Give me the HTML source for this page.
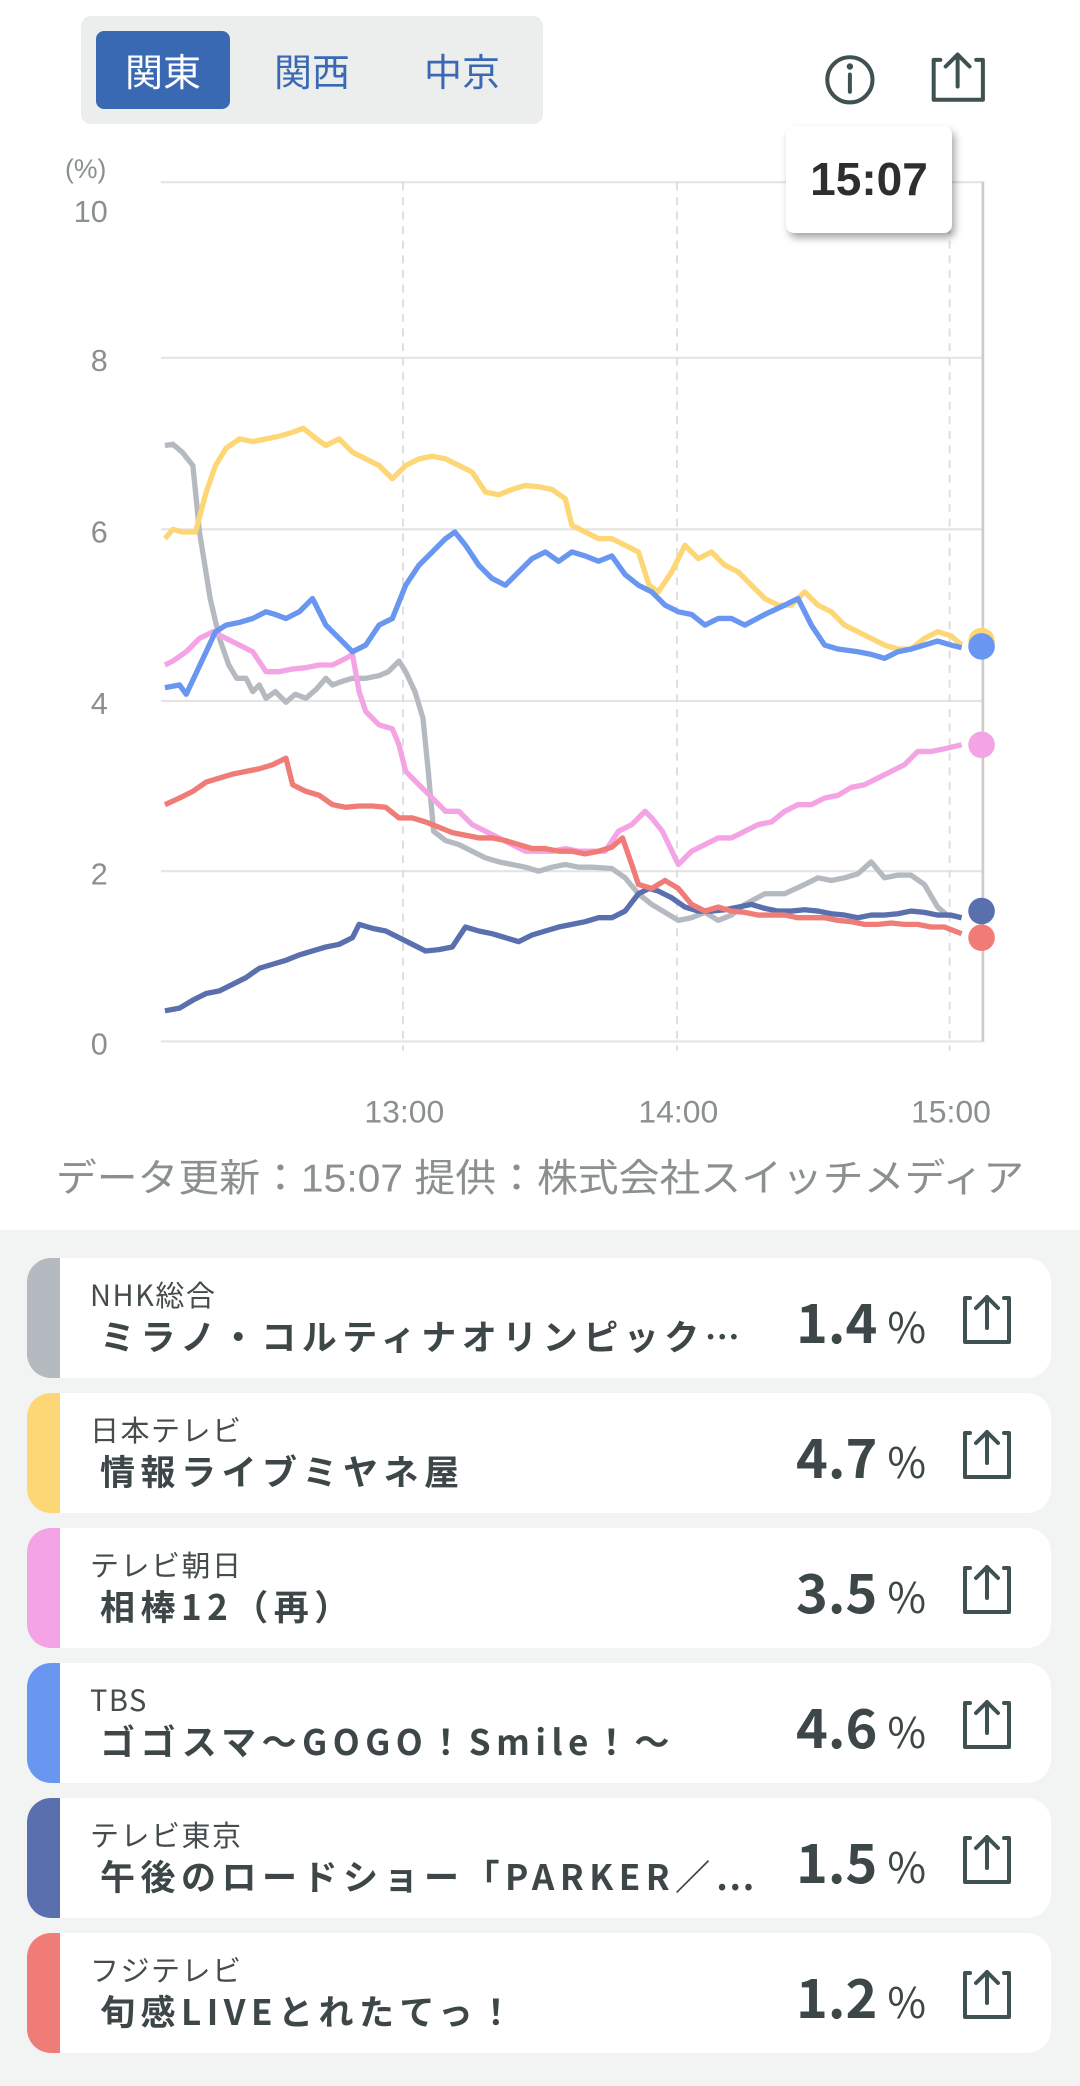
<!DOCTYPE html>
<html><head><meta charset="utf-8"><style>
*{margin:0;padding:0;box-sizing:border-box}
body{width:1080px;height:2086px;background:#f2f4f3;font-family:"Liberation Sans","Noto Sans CJK JP",sans-serif;position:relative;overflow:hidden}
#top{position:absolute;left:0;top:0;width:1080px;height:1230px;background:#fff}
.seg{position:absolute;left:81px;top:16px;width:462px;height:108px;background:#eceeee;border-radius:10px}
.btn{position:absolute;top:15px;height:78px;width:134px;border-radius:8px;font-size:38px;color:#3a69b3;text-align:center;line-height:78px;font-family:"Noto Sans CJK JP",sans-serif}
.card{position:absolute;left:27px;width:1024px;height:120px;background:#fff;border-radius:24px;overflow:hidden}
.stripe{position:absolute;left:0;top:0;width:33px;height:120px}
.ch{position:absolute;left:63px;top:18px;font-size:29px;color:#444c4c;font-family:"Noto Sans CJK JP",sans-serif;line-height:36px;letter-spacing:1.5px}
.ti{position:absolute;left:73px;top:56px;font-size:35px;font-weight:bold;color:#3d4747;font-family:"Noto Sans CJK JP",sans-serif;line-height:44px;white-space:nowrap;letter-spacing:5.5px}
.pc{position:absolute;right:125px;top:30px;font-size:54px;font-weight:bold;color:#3d4747;font-family:"Noto Sans CJK JP",sans-serif;line-height:64px}
.pc span{font-size:42px;font-weight:normal;margin-left:10px}
.sh{position:absolute;left:934px;top:36px}
</style></head><body>
<div id="top">
<div class="seg">
<div class="btn" style="left:15px;background:#3a69b3;color:#fff">関東</div>
<div class="btn" style="left:164px">関西</div>
<div class="btn" style="left:314px">中京</div>
</div>
<svg style="position:absolute;left:0;top:0" width="1080" height="1230" viewBox="0 0 812 924.8">
<g stroke="#e4e4e4" stroke-width="1.6">
<line x1="121" y1="137" x2="740" y2="137"/><line x1="121" y1="269" x2="740" y2="269"/><line x1="121" y1="398" x2="740" y2="398"/><line x1="121" y1="527" x2="740" y2="527"/><line x1="121" y1="655" x2="740" y2="655"/><line x1="121" y1="783" x2="740" y2="783"/>
</g>
<g stroke="#ddd" stroke-width="1.4" stroke-dasharray="6,5">
<line x1="303" y1="137" x2="303" y2="790"/><line x1="509" y1="137" x2="509" y2="790"/><line x1="714" y1="137" x2="714" y2="790"/>
</g>
<line x1="739" y1="137" x2="739" y2="783" stroke="#ccc" stroke-width="2"/>
<g fill="#8a8f90" font-size="23" font-family="Liberation Sans,sans-serif" text-anchor="end">
<text x="80" y="134" font-size="20">(%)</text>
<text x="81" y="167">10</text><text x="81" y="279">8</text><text x="81" y="408">6</text><text x="81" y="537">4</text><text x="81" y="665">2</text><text x="81" y="793">0</text>
</g>
<g fill="#8a8f90" font-size="24" font-family="Liberation Sans,sans-serif" text-anchor="middle">
<text x="304" y="844">13:00</text><text x="510" y="844">14:00</text><text x="715" y="844">15:00</text>
</g>
<text x="406" y="896" fill="#8a8f90" font-size="29" text-anchor="middle" font-family="Liberation Sans,Noto Sans CJK JP,sans-serif" textLength="728" lengthAdjust="spacingAndGlyphs">データ更新：15:07 提供：株式会社スイッチメディア</text>
<g fill="none" stroke-width="4" stroke-linejoin="round">
<polyline stroke="#b5bac1" points="124,335 130,334 137,340 145,350 150,400 158,450 165,480 172,500 178,510 185,510 190,520 195,515 200,525 207,520 215,528 222,522 230,525 238,518 245,510 250,515 258,512 265,510 275,510 285,508 292,505 300,497 305,505 312,520 318,540 322,580 326,625 335,632 345,635 355,640 365,645 375,648 385,650 395,652 405,655 415,652 425,650 435,652 445,652 460,653 470,660 480,672 490,680 500,686 510,692 520,690 530,686 540,692 550,688 560,680 575,672 590,672 605,665 615,660 625,662 635,660 645,657 655,648 665,660 675,658 685,658 695,665 705,682 712,688 723,690"/>
<polyline stroke="#fdd676" points="124,405 130,398 137,400 147,400 155,370 162,350 170,337 180,330 190,332 200,330 210,328 220,325 228,322 238,330 245,335 255,330 265,340 275,345 285,350 295,360 305,350 315,345 325,343 335,345 345,350 355,355 365,370 375,372 385,368 395,365 405,366 415,368 425,375 430,395 440,400 450,405 460,405 470,410 480,415 488,440 495,445 505,430 515,410 525,420 535,415 545,425 555,430 565,440 575,450 585,455 595,455 605,445 615,455 625,460 635,470 645,475 655,480 665,485 675,488 685,488 695,480 705,475 715,478 723,485"/>
<polyline stroke="#f4a4e4" points="124,500 130,497 140,490 150,480 160,475 170,480 180,485 190,490 200,505 210,505 220,503 230,502 240,500 250,500 260,495 265,492 270,520 275,535 285,545 295,548 300,560 305,580 315,590 325,600 335,610 345,610 355,620 365,625 375,630 385,635 395,640 405,640 415,640 425,638 435,640 445,640 455,640 465,625 475,620 485,610 490,615 498,625 510,650 520,640 530,635 540,630 550,630 560,625 570,620 580,618 590,610 600,605 610,605 620,600 630,598 640,592 650,590 660,585 670,580 680,575 690,565 700,565 710,563 723,560"/>
<polyline stroke="#6896f0" points="124,517 135,515 140,522 148,505 155,490 162,475 170,470 180,468 190,465 200,460 207,462 215,465 225,460 235,450 245,470 255,480 265,490 275,485 285,470 295,465 305,440 315,425 325,415 335,405 342,400 350,410 360,425 370,435 380,440 390,430 400,420 410,415 420,422 430,415 440,418 450,422 460,418 470,432 480,440 490,445 500,455 510,460 520,462 530,470 540,465 550,465 560,470 575,462 590,455 600,450 610,470 620,485 630,488 645,490 655,492 665,495 675,490 685,488 695,485 705,482 715,485 723,487"/>
<polyline stroke="#5a70ae" points="124,760 135,758 145,752 155,747 165,745 175,740 185,735 195,728 205,725 215,722 225,718 235,715 245,712 255,710 265,705 270,695 280,698 290,700 300,705 310,710 320,715 330,714 340,712 350,697 360,700 370,702 380,705 390,708 400,703 410,700 420,697 430,695 440,693 450,690 460,690 470,685 480,672 488,668 495,670 505,675 515,682 525,685 535,685 545,684 555,682 565,680 575,683 585,685 595,685 605,684 615,685 625,687 635,688 645,690 655,688 665,688 675,687 685,685 695,686 705,688 715,688 723,690"/>
<polyline stroke="#f07c78" points="124,605 135,600 145,595 155,588 165,585 175,582 185,580 195,578 205,575 215,570 220,590 230,595 240,598 250,605 260,607 270,606 280,606 290,607 300,615 310,615 320,618 330,622 340,626 350,628 360,630 370,630 380,632 390,635 400,638 410,638 420,640 430,640 440,642 450,640 460,637 468,630 475,650 480,665 490,668 500,662 510,668 520,680 530,685 540,682 550,685 560,686 570,688 580,688 590,688 600,690 610,690 620,690 630,692 640,693 650,695 660,695 670,694 680,695 690,695 700,697 710,697 723,702"/>
</g>
<circle cx="738" cy="482" r="10" fill="#fdd676"/>
<circle cx="738" cy="486" r="10" fill="#6896f0"/>
<circle cx="738" cy="560" r="10" fill="#f4a4e4"/>
<circle cx="738" cy="685" r="10" fill="#5a70ae"/>
<circle cx="738" cy="705" r="10" fill="#f07c78"/>
<g fill="none" stroke="#3f5150" stroke-width="3" stroke-linecap="round" stroke-linejoin="round">
<circle cx="639" cy="60" r="17"/><line x1="639" y1="56" x2="639" y2="69"/>
<path d="M707,45 h-5 v30 h37 v-30 h-5 M720,65 v-23 M711,50 l9,-9 l9,9"/>
</g>
<circle cx="639" cy="50" r="2.4" fill="#3f5150"/>
</svg>
<div style="position:absolute;left:786px;top:126px;width:166px;height:107px;background:#fff;border-radius:8px;box-shadow:3px 5px 8px rgba(0,0,0,0.35);font-size:46px;font-weight:bold;color:#2e2e2e;text-align:center;line-height:107px">15:07</div>
</div>

<div class="card" style="top:1258px"><div class="stripe" style="background:#b5bac1"></div><div class="ch">NHK総合</div><div class="ti">ミラノ・コルティナオリンピック…</div><div class="pc">1.4<span>%</span></div><svg class="sh" width="52" height="52" viewBox="0 0 52 52"><path d="M9,4 h-5 v44 h44 v-44 h-5 M26,34 v-31 M15,14 l11,-11 l11,11" fill="none" stroke="#3f5150" stroke-width="4" stroke-linecap="round" stroke-linejoin="round"/></svg></div>
<div class="card" style="top:1393px"><div class="stripe" style="background:#fdd676"></div><div class="ch">日本テレビ</div><div class="ti">情報ライブミヤネ屋</div><div class="pc">4.7<span>%</span></div><svg class="sh" width="52" height="52" viewBox="0 0 52 52"><path d="M9,4 h-5 v44 h44 v-44 h-5 M26,34 v-31 M15,14 l11,-11 l11,11" fill="none" stroke="#3f5150" stroke-width="4" stroke-linecap="round" stroke-linejoin="round"/></svg></div>
<div class="card" style="top:1528px"><div class="stripe" style="background:#f4a4e4"></div><div class="ch">テレビ朝日</div><div class="ti">相棒12（再）</div><div class="pc">3.5<span>%</span></div><svg class="sh" width="52" height="52" viewBox="0 0 52 52"><path d="M9,4 h-5 v44 h44 v-44 h-5 M26,34 v-31 M15,14 l11,-11 l11,11" fill="none" stroke="#3f5150" stroke-width="4" stroke-linecap="round" stroke-linejoin="round"/></svg></div>
<div class="card" style="top:1663px"><div class="stripe" style="background:#6896f0"></div><div class="ch">TBS</div><div class="ti">ゴゴスマ～GOGO！Smile！～</div><div class="pc">4.6<span>%</span></div><svg class="sh" width="52" height="52" viewBox="0 0 52 52"><path d="M9,4 h-5 v44 h44 v-44 h-5 M26,34 v-31 M15,14 l11,-11 l11,11" fill="none" stroke="#3f5150" stroke-width="4" stroke-linecap="round" stroke-linejoin="round"/></svg></div>
<div class="card" style="top:1798px"><div class="stripe" style="background:#5a70ae"></div><div class="ch">テレビ東京</div><div class="ti">午後のロードショー「PARKER／…</div><div class="pc">1.5<span>%</span></div><svg class="sh" width="52" height="52" viewBox="0 0 52 52"><path d="M9,4 h-5 v44 h44 v-44 h-5 M26,34 v-31 M15,14 l11,-11 l11,11" fill="none" stroke="#3f5150" stroke-width="4" stroke-linecap="round" stroke-linejoin="round"/></svg></div>
<div class="card" style="top:1933px"><div class="stripe" style="background:#f07c78"></div><div class="ch">フジテレビ</div><div class="ti">旬感LIVEとれたてっ！</div><div class="pc">1.2<span>%</span></div><svg class="sh" width="52" height="52" viewBox="0 0 52 52"><path d="M9,4 h-5 v44 h44 v-44 h-5 M26,34 v-31 M15,14 l11,-11 l11,11" fill="none" stroke="#3f5150" stroke-width="4" stroke-linecap="round" stroke-linejoin="round"/></svg></div>
</body></html>
